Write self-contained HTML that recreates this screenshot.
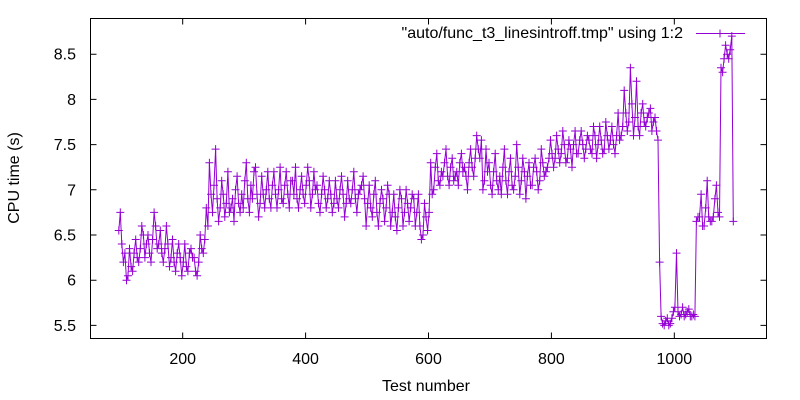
<!DOCTYPE html>
<html><head><meta charset="utf-8"><style>
html,body{margin:0;padding:0;background:#fff}
svg{display:block;font-family:"Liberation Sans",sans-serif}
</style></head><body>
<svg id="chart" width="800" height="400" viewBox="0 0 800 400">
<rect x="0" y="0" width="800" height="400" fill="#fff"/>
<g id="grid-ticks"></g>
<g id="series"></g>
<rect x="90.5" y="18.5" width="676" height="320" fill="none" stroke="#000" stroke-width="1"/>
<text x="15" y="178" transform="rotate(-90 15 178)" text-anchor="middle" font-size="16" dominant-baseline="middle">CPU time (s)</text>
<text x="426" y="391" text-anchor="middle" font-size="16">Test number</text>
<g>
<text x="683" y="38" text-anchor="end" font-size="16">"auto/func_t3_linesintroff.tmp" using 1:2</text>
<line x1="696" y1="33.5" x2="745" y2="33.5" stroke="#9400d3" stroke-width="1"/>
<path d="M716 33.5h8M720 29.5v8" stroke="#9400d3" stroke-width="1"/>
</g>
</svg>
<script>
const xTicks=[200,400,600,800,1000];
const yTicks=[5.5,6,6.5,7,7.5,8,8.5];
const yTickLabels=["5.5","6","6.5","7","7.5","8","8.5"];
const xStart=96;
const xStep=5;
const cpuValues=[
6.55,6.4,6.3,6.05,6.15,6.3,6.25,6.35,6.5,6.4,6.3,
6.45,6.6,6.4,6.3,6.35,6.4,6.25,6.2,6.3,6.25,
6.2,6.15,6.3,6.25,6.1,6.2,6.35,6.45,6.6,6.95,
7.05,6.9,6.8,6.95,6.85,6.75,6.9,7.0,6.85,6.95,
7.1,6.9,7.05,7.2,6.95,6.85,6.95,7.0,6.9,7.05,
6.95,7.0,6.9,7.05,6.95,7.1,6.95,6.9,7.0,6.95,
7.05,7.1,6.95,7.0,6.85,6.95,7.0,6.9,6.95,6.85,
6.9,7.0,6.95,6.85,6.9,7.0,6.9,6.95,7.05,6.9,
6.85,6.8,6.95,6.75,6.85,6.9,6.8,6.95,6.75,6.7,
6.8,6.9,6.75,6.85,6.8,6.9,6.75,6.6,6.5,6.7,
6.75,6.95,7.25,7.1,7.2,7.3,7.15,7.25,7.1,7.2,
7.3,7.2,7.15,7.3,7.25,7.35,7.45,7.55,7.1,7.2,
7.05,7.2,7.1,7.15,7.25,7.1,7.2,7.05,7.15,7.25,
7.1,7.2,7.15,7.05,7.25,7.2,7.1,7.3,7.2,7.35,
7.4,7.35,7.45,7.4,7.5,7.35,7.45,7.5,7.4,7.55,
7.5,7.45,7.55,7.4,7.6,7.5,7.55,7.45,7.6,7.55,
7.5,7.6,7.55,7.7,7.85,7.75,7.95,7.8,7.7,7.85,
7.75,7.8,7.9,7.75,7.65,6.2,5.52,5.55,5.5,5.58,
5.7,5.65,5.62,5.6,5.65,5.6,5.62,6.65,6.7,6.6,
6.8,6.7,6.65,6.9,6.75,8.35,8.45,8.5,8.55,6.65
];
const cpuValuesMid=[
6.75,6.2,6.0,6.35,6.1,6.45,6.2,6.6,6.25,6.5,
6.2,6.75,6.35,6.55,6.2,6.6,6.15,6.45,6.1,6.4,
6.05,6.4,6.1,6.35,6.25,6.05,6.5,6.3,6.8,7.3,
6.75,7.45,6.65,7.1,6.7,7.2,6.8,6.65,7.15,6.75,
6.8,7.3,6.75,6.9,7.25,6.7,7.15,6.8,7.2,6.8,
7.2,6.8,7.25,6.85,7.2,6.8,7.1,7.25,6.8,7.15,
6.85,7.25,6.8,7.2,7.05,6.75,7.15,6.8,7.1,6.75,
7.1,6.8,7.15,6.7,7.1,6.85,7.2,6.75,7.0,7.15,
6.6,7.05,6.7,7.1,6.6,7.0,6.65,7.05,6.6,6.95,
6.55,7.0,6.6,7.0,6.65,6.95,6.6,6.95,6.45,6.85,
6.55,7.3,7.0,7.4,7.05,7.15,7.45,7.05,7.35,7.15,
7.05,7.4,7.25,7.0,7.45,7.15,7.6,7.35,7.0,7.45,
7.3,6.95,7.4,7.0,6.95,7.45,6.95,7.35,7.0,7.5,
6.95,7.35,6.9,7.3,7.05,7.35,7.0,7.45,7.15,7.25,
7.55,7.25,7.6,7.3,7.65,7.3,7.55,7.25,7.65,7.4,
7.65,7.35,7.6,7.45,7.7,7.35,7.7,7.4,7.75,7.45,
7.7,7.4,7.85,7.6,8.1,7.65,8.35,7.6,8.2,7.6,
7.95,7.7,7.85,7.65,7.8,7.55,5.6,5.5,5.58,5.52,
5.65,6.3,5.6,5.7,5.62,5.68,5.6,5.6,6.7,6.95,
6.6,7.1,6.65,6.7,7.05,6.7,8.3,8.6,8.45,8.7
];
const NS="http://www.w3.org/2000/svg";
const L=90.5,R=766.5,T=18.5,B=338.5;
const xMin=50,xMax=1150,yMin=5.355,yMax=8.895;
function xs(v){return L+(v-xMin)/(xMax-xMin)*(R-L);}
function ys(v){return B-(v-yMin)/(yMax-yMin)*(B-T);}
const tg=document.getElementById('grid-ticks');
xTicks.forEach(t=>{
  const x=xs(t);
  const l=document.createElementNS(NS,'path');
  l.setAttribute('d',`M${x} ${B}v-6M${x} ${T}v6`);
  l.setAttribute('stroke','#000');
  
  
  tg.appendChild(l);
  const tx=document.createElementNS(NS,'text');
  tx.setAttribute('x',x);tx.setAttribute('y',364);
  tx.setAttribute('text-anchor','middle');tx.setAttribute('font-size','16');
  tx.textContent=String(t);
  
  
  tg.appendChild(tx);
});
yTicks.forEach((t,i)=>{
  const y=ys(t);
  const l=document.createElementNS(NS,'path');
  l.setAttribute('d',`M${L} ${y}h6M${R} ${y}h-6`);
  l.setAttribute('stroke','#000');
  
  
  tg.appendChild(l);
  const tx=document.createElementNS(NS,'text');
  tx.setAttribute('x',76);tx.setAttribute('y',y+5.5);
  tx.setAttribute('text-anchor','end');tx.setAttribute('font-size','16');
  tx.textContent=yTickLabels[i];
  
  
  tg.appendChild(tx);
});
const pts=[];
cpuValues.forEach((v,i)=>{
  pts.push([xStart+i*xStep,v]);
  if(i<cpuValuesMid.length) pts.push([xStart+i*xStep+xStep/2,cpuValuesMid[i]]);
});
const sg=document.getElementById('series');
let d='';
pts.forEach((p,i)=>{d+=(i?'L':'M')+xs(p[0]).toFixed(1)+' '+ys(p[1]).toFixed(1);});
const line=document.createElementNS(NS,'path');
line.setAttribute('d',d);line.setAttribute('fill','none');
line.setAttribute('stroke','#9400d3');line.setAttribute('stroke-width','1');


sg.appendChild(line);
let pd='';
pts.forEach(p=>{const x=xs(p[0]),y=ys(p[1]);pd+=`M${(x-4).toFixed(1)} ${y.toFixed(1)}h8M${x.toFixed(1)} ${(y-4).toFixed(1)}v8`;});
const mk=document.createElementNS(NS,'path');
mk.setAttribute('d',pd);mk.setAttribute('stroke','#9400d3');mk.setAttribute('stroke-width','1');


sg.appendChild(mk);
</script>
</body></html>
